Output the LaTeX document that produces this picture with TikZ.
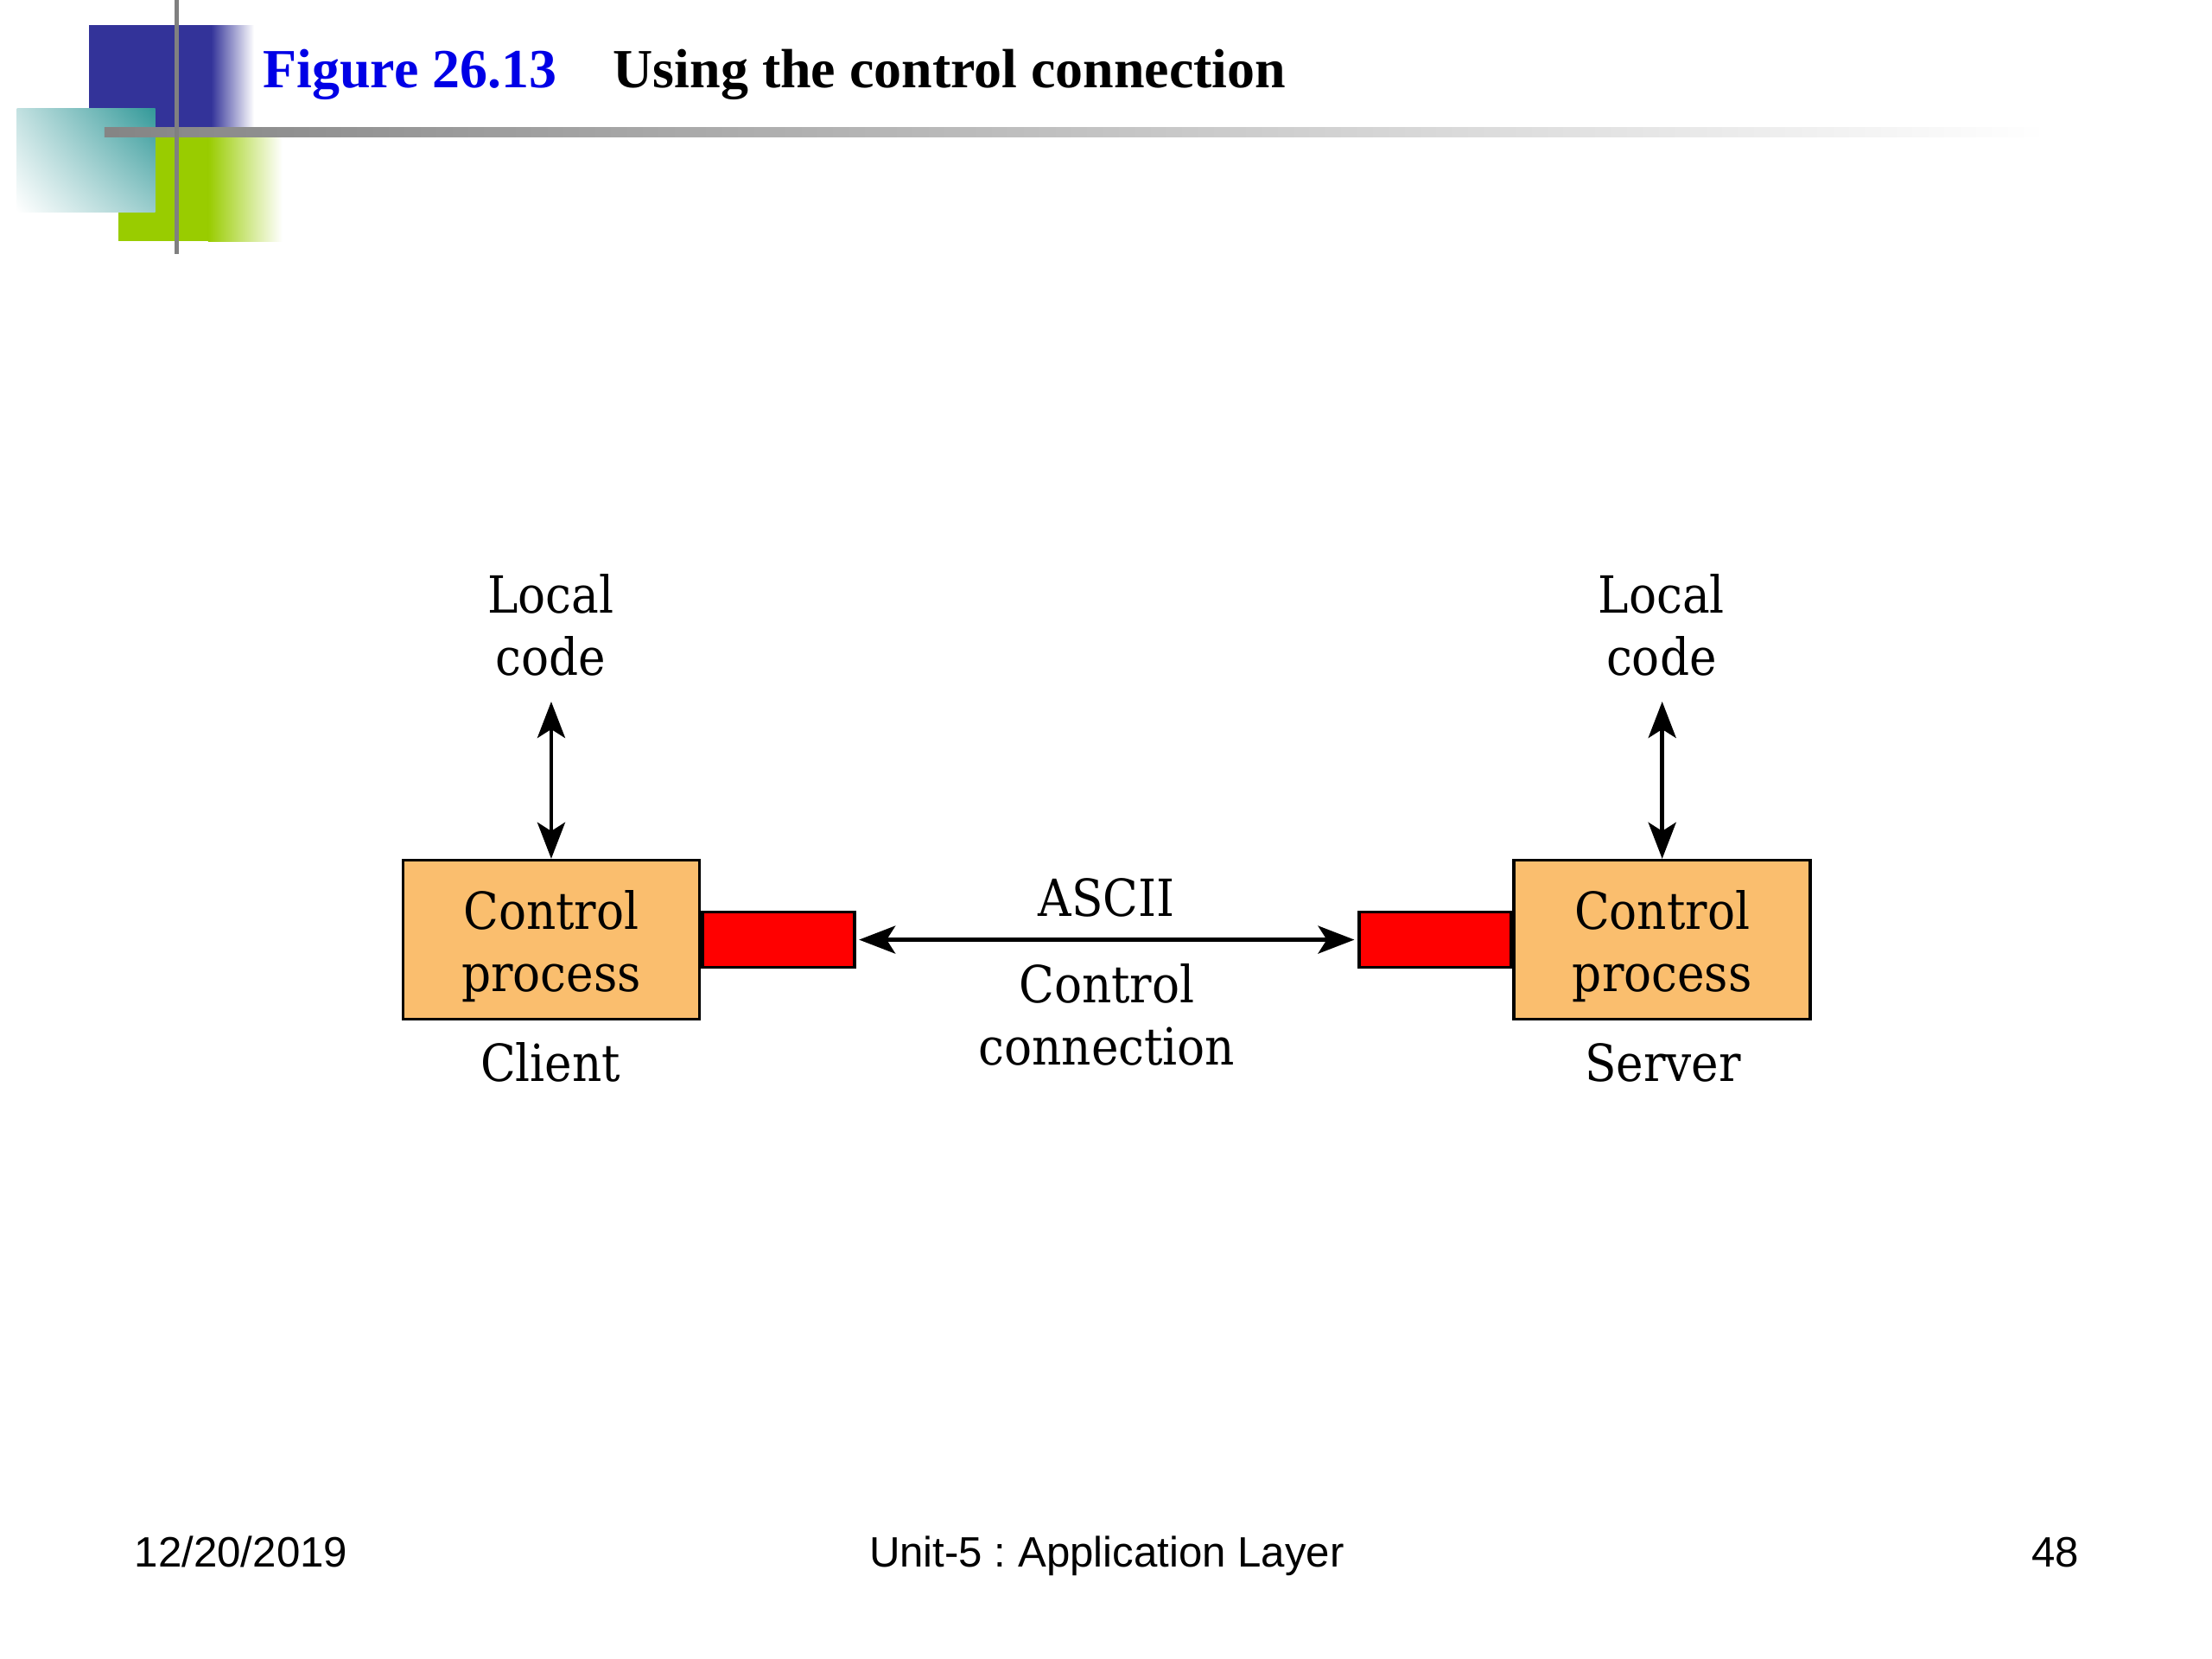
\documentclass[tikz,border=0pt]{standalone}
\usepackage{fontspec}
\setmainfont{Liberation Serif}
\newfontfamily\dfont{DejaVu Serif Condensed}
\newfontfamily\ffont{Liberation Sans}
\usetikzlibrary{arrows.meta,shadings}
\frenchspacing
\definecolor{boxorange}{RGB}{250,190,110}
\definecolor{boxred}{RGB}{255,0,0}
\definecolor{decoblue}{RGB}{51,51,153}
\definecolor{decoteal}{RGB}{51,153,153}
\definecolor{decogreen}{RGB}{153,204,0}
\definecolor{titleblue}{RGB}{0,0,230}
\definecolor{decogray}{RGB}{128,128,128}
\newcommand{\boxstrut}{\rule{0pt}{0.6cm}}
\tikzset{
  procbox/.style={draw=black, line width=1pt, fill=boxorange, minimum width=3.43cm, minimum height=1.84cm, inner sep=0pt, align=center, font=\dfont\fontsize{16.85}{20.45}\selectfont},
  redbox/.style={draw=black, line width=1pt, fill=boxred, minimum width=1.76cm, minimum height=0.64cm, inner sep=0pt},
  lbl/.style={align=center, inner sep=0pt, font=\dfont\fontsize{16.85}{20.45}\selectfont},
  conn/.style={line width=1.4pt, {Stealth[length=0.42cm,width=0.32cm,inset=0.1cm]}-{Stealth[length=0.42cm,width=0.32cm,inset=0.1cm]}},
  foot/.style={inner sep=0pt, font=\ffont\fontsize{14}{16.5}\selectfont},
  ttl/.style={inner sep=0pt, font=\bfseries\fontsize{18.2}{22}\selectfont}
}
\begin{document}
\begin{tikzpicture}[x=0.016337cm, y=-0.016337cm]
\useasboundingbox (0,0) rectangle (1567,1175.2);
\fill[white] (0,0) rectangle (1567,1175.2);
% decoration
\fill[decoblue] (63,18) rectangle (150,90);
\shade[left color=decoblue, right color=white] (149.5,18) rectangle (180,90);
\fill[decogreen] (84,97) rectangle (148,171);
\shade[left color=decogreen, right color=white] (147.5,97) rectangle (200,171);
\shade[upper left=decoteal!30, upper right=decoteal, lower left=white, lower right=decoteal!50] (12,77) rectangle (110,150);
\shade[left color=black!48, right color=white] (74,90) rectangle (1450,97);
\fill[decogray] (123.5,0) rectangle (126.5,180);
% title
\node[ttl, text=titleblue, anchor=base west] (fig) at (186,62) {Figure 26.13};
\node[ttl, anchor=base west] (title) at (434,62) {Using the control connection};
% diagram
\node[procbox] (cl) at (390.5,665.7) {\boxstrut Control\\process};
\node[procbox] (cs) at (1177.5,665.7) {\boxstrut Control\\process};
\node[redbox, anchor=west] (rl) at (cl.east) {};
\node[redbox, anchor=east] (rs) at (cs.west) {};
\node[lbl] (lcl) at (390,443) {Local\\code};
\node[lbl] (lcs) at (1177,443) {Local\\code};
\coordinate (tl) at (390.5,497);
\coordinate (ts) at (1177.5,497);
\draw[conn] (cl.north) -- (tl);
\draw[conn] (cs.north) -- (ts);
\draw[conn, shorten <=1pt, shorten >=1pt] (rl.east) -- (rs.west);
\node[lbl, anchor=base] (ascii) at (784,649) {ASCII};
\node[lbl] (cc) at (784,719) {Control\\connection};
\node[lbl, anchor=base] (client) at (390,766) {Client};
\node[lbl, anchor=base] (server) at (1178,766) {Server};
% footer
\node[foot, anchor=base west] (date) at (95,1110) {12/20/2019};
\node[foot, anchor=base] (unit) at (784,1110) {Unit-5 : Application Layer};
\node[foot, anchor=base east] (page) at (1473,1110) {48};
\end{tikzpicture}
\end{document}
